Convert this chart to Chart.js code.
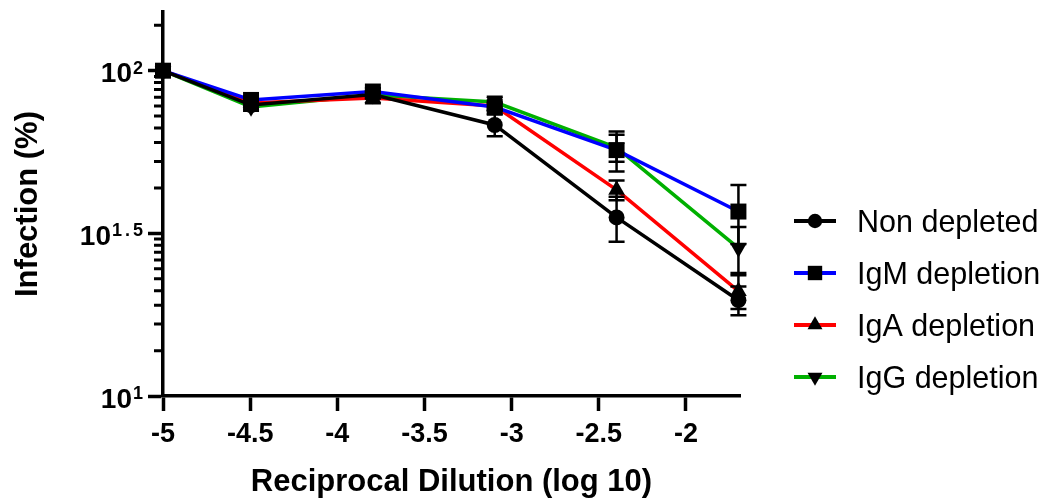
<!DOCTYPE html>
<html>
<head>
<meta charset="utf-8">
<script src="https://cdn.jsdelivr.net/npm/chart.js@4.4.1/dist/chart.umd.min.js"></script>
<style>
  html, body { margin: 0; padding: 0; background: #fff; }
</style>
</head>
<body>
<canvas id="infectionChart" width="1053" height="503"></canvas>
<script>
const FONT = '"Liberation Sans", Arial, Helvetica, sans-serif';

// log10 of the reciprocal dilution (5-fold series)
const dilutions = [-5, -4.495, -3.796, -3.097, -2.398, -1.699];
const xTicks = [-5, -4.5, -4, -3.5, -3, -2.5, -2];

// major y ticks are at 10^1, 10^1.5, 10^2
const yMajorExponents = [1, 1.5, 2];
const yTickBase = ['10', '10', '10'];
const yTickPower = ['1', '1.5', '2'];

const seriesNames = ['Non depleted', 'IgM depletion', 'IgA depletion', 'IgG depletion'];
const seriesColors = ['#000000', '#0000ff', '#ff0000', '#00b000'];
const seriesMarkers = ['circle', 'rect', 'triangle', 'triangle'];
const markerRotation = [0, 0, 0, 180];
const markerRadius = [8, 11.3, 9.6, 9.6];

// infection (%) mean and SD per dilution
const nonDepleted   = [100, 78.4, 84.5, 68.1, 35.4, 19.7];
const nonDepletedSd = [0, 2, 2, 5.2, 5.6, 2.0];
const igmDepletion   = [100, 81.3, 86.3, 77.3, 57.0, 36.9];
const igmDepletionSd = [0, 2, 2, 2, 8, 7.6];
const igaDepletion   = [100, 79.6, 82.4, 77.9, 43.0, 21.0];
const igaDepletionSd = [0, 2, 3, 2, 3, 2.5];
const iggDepletion   = [100, 77.3, 84.2, 80.1, 58.0, 28.5];
const iggDepletionSd = [0, 2, 2, 3, 5.5, 4.6];

const means = [nonDepleted, igmDepletion, igaDepletion, iggDepletion];
const sds = [nonDepletedSd, igmDepletionSd, igaDepletionSd, iggDepletionSd];

const datasets = seriesNames.map((name, i) => ({
  label: name,
  data: dilutions.map((d, j) => ({ x: d, y: means[i][j] })),
  sd: sds[i],
  borderColor: seriesColors[i],
  borderWidth: 3.5,
  backgroundColor: seriesColors[i],
  pointStyle: seriesMarkers[i],
  pointRotation: markerRotation[i],
  pointRadius: markerRadius[i],
  pointBackgroundColor: '#000',
  pointBorderColor: '#000',
  pointBorderWidth: 0,
  tension: 0,
  clip: false
}));

// vertical SD bars with caps
const errorBars = {
  id: 'errorBars',
  afterDatasetsDraw(chart) {
    const { ctx } = chart;
    const x = chart.scales.x;
    const y = chart.scales.y;
    ctx.save();
    ctx.strokeStyle = '#000';
    ctx.lineWidth = 2.5;
    chart.data.datasets.forEach(ds => {
      ds.data.forEach((pt, i) => {
        const sd = ds.sd[i];
        if (!sd) return;
        const px = x.getPixelForValue(pt.x);
        const top = y.getPixelForValue(pt.y + sd);
        const bot = y.getPixelForValue(pt.y - sd);
        ctx.beginPath();
        ctx.moveTo(px, top);
        ctx.lineTo(px, bot);
        ctx.moveTo(px - 8, top);
        ctx.lineTo(px + 8, top);
        ctx.moveTo(px - 8, bot);
        ctx.lineTo(px + 8, bot);
        ctx.stroke();
      });
    });
    ctx.restore();
  }
};

// minor ticks: ten per half decade
const minorTicks = {
  id: 'minorTicks',
  afterDraw(chart) {
    const { ctx } = chart;
    const y = chart.scales.y;
    const left = chart.chartArea.left;
    const maxExp = Math.log10(y.max);
    ctx.save();
    ctx.strokeStyle = '#000';
    ctx.lineWidth = 3;
    ctx.beginPath();
    [1, 1.5, 2].forEach(e => {
      for (let k = 2; k <= 11; k++) {
        const exp = e + 0.5 * Math.log10(k) / Math.log10(12);
        if (exp > maxExp) continue;
        const py = y.getPixelForValue(Math.pow(10, exp));
        ctx.moveTo(left - 9, py);
        ctx.lineTo(left, py);
      }
    });
    ctx.stroke();
    ctx.restore();
  }
};

// "10" with a raised power for each major tick
const powerLabels = {
  id: 'powerLabels',
  afterDraw(chart) {
    const { ctx } = chart;
    const y = chart.scales.y;
    const right = chart.chartArea.left - 20;
    ctx.save();
    ctx.fillStyle = '#000';
    ctx.textBaseline = 'alphabetic';
    ctx.textAlign = 'left';
    yMajorExponents.forEach((e, i) => {
      const py = y.getPixelForValue(Math.pow(10, e));
      const chars = yTickPower[i].split('');
      ctx.font = `bold 18px ${FONT}`;
      const gap = 3;
      const widths = chars.map(c => ctx.measureText(c).width);
      const total = widths.reduce((a, b) => a + b, 0) + gap * (chars.length - 1);
      let cx = right - total;
      const start = cx;
      chars.forEach((c, j) => {
        ctx.fillText(c, cx, py + 3);
        cx += widths[j] + gap;
      });
      ctx.font = `bold 28px ${FONT}`;
      ctx.textAlign = 'right';
      ctx.fillText(yTickBase[i], start - 1, py + 11.5);
      ctx.textAlign = 'left';
    });
    ctx.restore();
  }
};

// legend on the right: line segment through the marker, then the name
const sideLegend = {
  id: 'sideLegend',
  afterDraw(chart) {
    const { ctx } = chart;
    const firstRow = 221;
    const rowStep = 52;
    ctx.save();
    chart.data.datasets.forEach((ds, i) => {
      const cy = firstRow + i * rowStep;
      ctx.strokeStyle = ds.borderColor;
      ctx.lineWidth = 4;
      ctx.beginPath();
      ctx.moveTo(794, cy);
      ctx.lineTo(836, cy);
      ctx.stroke();
      ctx.fillStyle = '#000';
      ctx.strokeStyle = '#000';
      Chart.helpers.drawPoint(ctx, {
        pointStyle: ds.pointStyle,
        rotation: ds.pointRotation,
        radius: ds.pointRadius * 0.9,
        borderWidth: 0
      }, 815, cy);
      ctx.font = `30.5px ${FONT}`;
      ctx.textAlign = 'left';
      ctx.textBaseline = 'alphabetic';
      ctx.fillText(ds.label, 857, cy + 10.8);
    });
    ctx.restore();
  }
};

new Chart(document.getElementById('infectionChart'), {
  type: 'line',
  data: { datasets },
  plugins: [errorBars, minorTicks, powerLabels, sideLegend],
  options: {
    responsive: false,
    animation: false,
    layout: { padding: { left: 0, right: 313, top: 12, bottom: 0 } },
    plugins: {
      legend: { display: false },
      tooltip: { enabled: false }
    },
    scales: {
      x: {
        type: 'linear',
        min: -5,
        max: -1.69,
        afterBuildTicks: s => { s.ticks = xTicks.map(v => ({ value: v })); },
        afterFit: s => { s.height = 107; },
        grid: {
          drawOnChartArea: false,
          drawTicks: true,
          tickLength: 15,
          tickWidth: 3.5,
          tickColor: '#000'
        },
        border: { display: true, color: '#000', width: 3.5 },
        ticks: {
          color: '#000',
          padding: 7,
          maxRotation: 0,
          font: { family: FONT, size: 27, weight: 'bold' },
          callback: v => String(v)
        },
        title: {
          display: true,
          text: 'Reciprocal Dilution (log 10)',
          color: '#000',
          font: { family: FONT, size: 31, weight: 'bold' },
          padding: { top: 0, bottom: 2 }
        }
      },
      y: {
        type: 'logarithmic',
        min: 10,
        max: 151.5,
        afterBuildTicks: s => {
          s.ticks = yMajorExponents.map(e => ({ value: Math.pow(10, e), major: true }));
        },
        afterFit: s => { s.width = 163; },
        grid: {
          drawOnChartArea: false,
          drawTicks: true,
          tickLength: 15,
          tickWidth: 3.5,
          tickColor: '#000'
        },
        border: { display: true, color: '#000', width: 3.5 },
        ticks: { callback: () => '', padding: 0 },
        title: {
          display: true,
          text: 'Infection (%)',
          color: '#000',
          font: { family: FONT, size: 31, weight: 'bold' },
          padding: { top: 10, bottom: 0 }
        }
      }
    }
  }
});
</script>
</body>
</html>
